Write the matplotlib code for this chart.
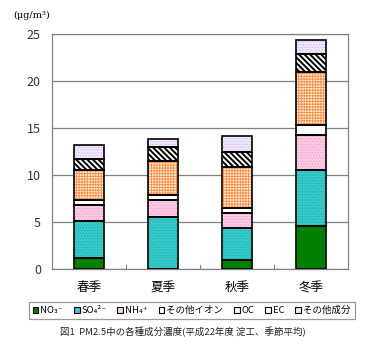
import matplotlib
matplotlib.use("Agg")
import matplotlib.pyplot as plt
import numpy as np

plt.rcParams['font.family'] = ['Noto Sans CJK JP', 'DejaVu Sans']
plt.rcParams['hatch.linewidth'] = 0.6

categories = ['春季', '夏季', '秋季', '冬季']
series_names = ['NO₃⁻', 'SO₄²⁻', 'NH₄⁺', 'その他イオン', 'OC', 'EC', 'その他成分']
no3 = [1.1, 0.0, 0.93, 4.58]
so4 = [4.0, 5.48, 3.37, 5.91]
nh4 = [1.74, 1.88, 1.67, 3.73]
other_ion = [0.46, 0.46, 0.47, 1.13]
oc = [3.17, 3.63, 4.43, 5.59]
ec = [1.2, 1.52, 1.54, 1.99]
other = [1.46, 0.89, 1.74, 1.40]
series = [no3, so4, nh4, other_ion, oc, ec, other]

faces = ['#008000', '#33CCCC', '#FFCCE8', '#FFFFFF', '#FFF4EC', '#FFFFFF', '#F0E8FF']
hatches = [None, '......', '......', None, '+' * 6, '\\' * 6, '......']
hatch_cols = [None, '#22AAAA', '#F0A0C8', None, '#FF9044', '#000000', '#D8B8F0']
hatch_lw = [0, 0.6, 0.6, 0, 0.7, 1.4, 0.6]

fig = plt.figure(figsize=(3.65, 3.59), dpi=100)
ax = fig.add_axes([0.1425, 0.2515, 0.8105, 0.6535])

x = np.arange(len(categories))
width = 0.4
bottom = np.zeros(len(categories))
handles = []
for vals, fc, h, hc, hl, name in zip(series, faces, hatches, hatch_cols, hatch_lw, series_names):
    vals = np.array(vals)
    if h is not None:
        plt.rcParams['hatch.linewidth'] = hl
        ax.bar(x, vals, width, bottom=bottom, color=fc, edgecolor=hc, hatch=h, linewidth=0, zorder=3)
    else:
        ax.bar(x, vals, width, bottom=bottom, color=fc, linewidth=0, zorder=3)
    ax.bar(x, vals, width, bottom=bottom, fill=False, edgecolor='black', linewidth=1.2, zorder=4)
    handles.append(plt.Rectangle((0, 0), 1, 1, facecolor=fc, edgecolor='black', linewidth=0.8))
    bottom += vals

ax.set_xlim(-0.5, 3.5)
ax.set_ylim(0, 25)
ax.set_yticks([0, 5, 10, 15, 20, 25])
ax.tick_params(axis='y', length=0, labelsize=9, colors='#333333', pad=8)
ax.set_xticks(x)
ax.set_xticklabels(categories, fontsize=9)
ax.tick_params(axis='x', length=0, pad=9)
for b in [0.5, 1.5, 2.5]:
    ax.plot([b, b], [0, 0.35], color='#808080', lw=0.8, zorder=2, clip_on=False)
ax.yaxis.grid(True, color='#808080', linewidth=0.9, zorder=1)
for s in ax.spines.values():
    s.set_color('#808080')
    s.set_linewidth(0.9)

fig.text(0.035, 0.957, '(μg/m³)', fontsize=7, ha='left', va='center',
         family=['DejaVu Serif'])

leg = fig.legend(handles, series_names, loc='center', bbox_to_anchor=(0.525, 0.135),
                 ncol=7, fontsize=6.8, frameon=True, fancybox=False,
                 handlelength=0.6, handleheight=0.6, handletextpad=0.2,
                 columnspacing=1.15, borderpad=0.45, edgecolor='#808080')
leg.get_frame().set_linewidth(0.9)

fig.text(0.5, 0.075, '図1  PM2.5中の各種成分濃度(平成22年度 淀工、季節平均)', fontsize=6.8,
         ha='center', va='center', color='#222222')

fig.savefig('out.png', dpi=100)
